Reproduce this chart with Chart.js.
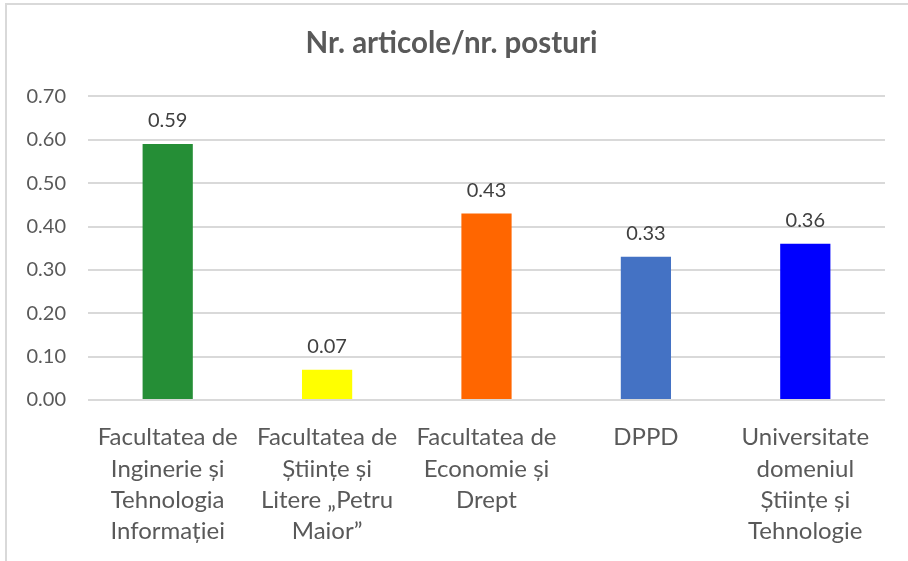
<!DOCTYPE html>
<html>
<head>
<meta charset="utf-8">
<script src="https://cdn.jsdelivr.net/npm/chart.js@4.4.1/dist/chart.umd.min.js"></script>
<style>
  html, body { margin: 0; padding: 0; background: #fff; }
  #frame {
    position: absolute; left: 5px; top: 3px; width: 940px; height: 600px;
    border: 2px solid #d9d9d9; box-sizing: border-box;
  }
  #wrap { position: absolute; left: 0; top: 0; width: 908px; height: 561px; }
</style>
</head>
<body>
<div id="frame"></div>
<div id="wrap"><canvas id="ratioChart"></canvas></div>
<script>
var categories = [
  ["Facultatea de", "Inginerie și", "Tehnologia", "Informației"],
  ["Facultatea de", "Științe și", "Litere „Petru", "Maior”"],
  ["Facultatea de", "Economie și", "Drept"],
  ["DPPD"],
  ["Universitate", "domeniul", "Științe și", "Tehnologie"]
];
var values = [0.59, 0.07, 0.43, 0.33, 0.36];
var barColors = ["#258e36", "#ffff00", "#ff6600", "#4472c4", "#0000ff"];
var yTicks = { min: 0, max: 0.7, step: 0.1 };

var valueLabels = {
  id: "valueLabels",
  afterDatasetsDraw: function (chart) {
    var ctx = chart.ctx;
    var meta = chart.getDatasetMeta(0);
    ctx.save();
    ctx.font = "20px Lato";
    ctx.fillStyle = "#404040";
    ctx.textAlign = "center";
    ctx.textBaseline = "alphabetic";
    meta.data.forEach(function (bar, i) {
      ctx.fillText(values[i].toFixed(2), bar.x, bar.y - 17);
    });
    ctx.restore();
  }
};

function initializeChart() {
  var canvas = document.getElementById("ratioChart");
  new Chart(canvas, {
    type: "bar",
    data: {
      labels: categories,
      datasets: [
        {
          data: values,
          backgroundColor: barColors,
          borderWidth: 0,
          categoryPercentage: 1,
          barPercentage: 0.315
        }
      ]
    },
    options: {
      responsive: false,
      animation: false,
      devicePixelRatio: 1,
      layout: { padding: { left: 18, right: 23, top: 0, bottom: 0 } },
      plugins: {
        legend: { display: false },
        tooltip: { enabled: false },
        title: {
          display: true,
          text: "Nr. articole/nr. posturi",
          color: "#595959",
          font: { family: "Lato", size: 29.5, weight: "bold" },
          padding: { top: 26, bottom: 35 }
        }
      },
      scales: {
        x: {
          grid: { display: false, drawTicks: false },
          border: { display: false },
          ticks: {
            color: "#595959",
            font: { family: "Lato", size: 24, lineHeight: 1.3 },
            padding: 22,
            maxRotation: 0,
            autoSkip: false
          },
          afterFit: function (scale) { scale.height = 161; }
        },
        y: {
          min: yTicks.min,
          max: yTicks.max,
          grid: { color: "#d9d9d9", lineWidth: 2, drawTicks: false },
          border: { display: false },
          ticks: {
            stepSize: yTicks.step,
            color: "#595959",
            font: { family: "Lato", size: 20 },
            padding: 22,
            callback: function (v) { return v.toFixed(2); }
          },
          afterFit: function (scale) { scale.width = 70; }
        }
      }
    },
    plugins: [valueLabels]
  });
}

var canvas = document.getElementById("ratioChart");
canvas.width = 908;
canvas.height = 561;
initializeChart();
</script>
</body>
</html>
